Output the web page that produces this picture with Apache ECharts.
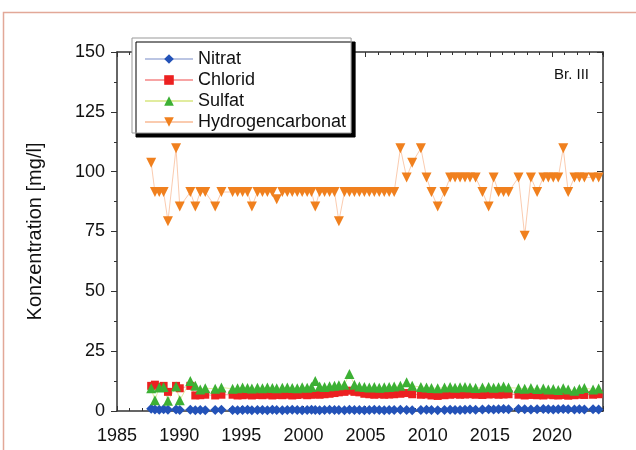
<!DOCTYPE html>
<html><head><meta charset="utf-8">
<script src="https://cdn.jsdelivr.net/npm/echarts@6/dist/echarts.min.js"></script>
<style>html,body{margin:0;padding:0;background:#fff}#c{width:636px;height:450px}</style>
</head><body><div id="c"></div>
<script>
var years = [1987.75,1988.05,1988.4,1988.75,1989.1,1989.75,1990.05,1990.9,1991.3,1991.7,1992.1,1992.9,1993.4,1994.3,1994.7,1995.1,1995.5,1995.85,1996.3,1996.7,1997.1,1997.5,1997.85,1998.3,1998.7,1999.1,1999.5,1999.9,2000.3,2000.65,2000.95,2001.3,2001.7,2002.1,2002.5,2002.85,2003.3,2003.7,2004.1,2004.5,2004.9,2005.3,2005.7,2006.1,2006.5,2006.9,2007.3,2007.8,2008.3,2008.75,2009.45,2009.9,2010.3,2010.8,2011.35,2011.8,2012.2,2012.6,2013.0,2013.4,2013.85,2014.4,2014.9,2015.3,2015.7,2016.1,2016.5,2017.3,2017.8,2018.3,2018.8,2019.3,2019.7,2020.1,2020.5,2020.9,2021.3,2021.8,2022.2,2022.6,2023.3,2023.75];
var hydrogencarbonat = [103.7,91.5,91.5,91.5,79.3,109.8,85.4,91.5,85.4,91.5,
  91.5,85.4,91.5,91.5,91.5,91.5,91.5,85.4,91.5,91.5,
  91.5,91.5,88.5,91.5,91.5,91.5,91.5,91.5,91.5,91.5,
  85.4,91.5,91.5,91.5,91.5,79.3,91.5,91.5,91.5,91.5,
  91.5,91.5,91.5,91.5,91.5,91.5,91.5,109.8,97.6,103.7,
  109.8,97.6,91.5,85.4,91.5,97.6,97.6,97.6,97.6,97.6,
  97.6,91.5,85.4,97.6,91.5,91.5,91.5,97.6,73.2,97.6,
  91.5,97.6,97.6,97.6,97.6,109.8,91.5,97.6,97.6,97.6,
  97.6,97.6];
var chlorid = [10.5,11.0,10.0,10.5,8.0,10.5,9.5,10.5,
  6.5,6.6,6.8,6.5,6.8,
  6.8,6.5,6.6,6.8,6.5,6.7,6.6,6.8,6.5,6.7,6.6,6.8,6.5,6.7,6.9,6.6,6.8,7.0,6.8,7.0,7.2,
  7.5,7.8,8.0,8.5,8.0,7.8,
  7.2,7.0,6.8,7.0,6.8,6.9,7.0,7.2,7.5,7.0,
  6.8,6.9,6.5,6.3,6.6,6.8,7.0,6.8,6.9,7.0,6.8,6.7,6.9,7.0,6.8,6.9,7.0,
  6.8,6.5,6.7,6.6,6.5,6.8,6.6,6.5,6.7,6.4,6.6,6.8,6.7,
  6.8,7.0];
var sulfat = [9.5,4.5,9.8,10.0,4.3,10.2,4.5,12.5,
  10.5,9.0,9.5,9.3,9.8,
  9.3,9.5,9.8,9.6,9.4,9.7,9.5,9.8,9.6,9.5,9.7,9.8,9.6,9.5,9.9,9.7,10.0,
  12.5,
  10.2,10.0,10.3,10.5,10.8,11.0,
  15.5,
  11.0,10.2,10.0,9.8,10.0,9.7,9.9,10.0,10.2,
  10.5,12.0,10.5,
  10.0,9.8,9.6,9.5,9.8,10.0,9.7,9.9,10.0,9.8,9.6,9.8,10.0,9.7,9.9,10.2,9.8,
  9.5,9.3,9.6,9.2,9.4,9.0,9.2,8.8,9.5,9.0,8.5,9.2,9.6,
  9.0,9.4];
var nitrat = [0.9,0.6,0.5,0.7,0.5,0.6,0.4,0.5,0.3,0.4,
  0.3,0.4,0.5,0.4,0.3,0.4,0.5,0.3,0.4,0.4,
  0.3,0.5,0.4,0.3,0.4,0.5,0.4,0.3,0.4,0.5,
  0.4,0.3,0.4,0.5,0.4,0.4,0.3,0.5,0.4,0.4,
  0.3,0.4,0.5,0.4,0.3,0.4,0.4,0.5,0.4,0.3,
  0.4,0.5,0.4,0.3,0.4,0.5,0.4,0.4,0.5,0.6,
  0.5,0.6,0.7,0.6,0.7,0.8,0.7,0.8,0.7,0.6,
  0.7,0.8,0.7,0.6,0.7,0.8,0.7,0.6,0.7,0.6,
  0.7,0.6];
var seriesNames = ['Nitrat','Chlorid','Sulfat','Hydrogencarbonat'];
var yTicks = [0,25,50,75,100,125,150];
var xTickYears = [1985,1990,1995,2000,2005,2010,2015,2020];

function pairs(v){ return years.map(function(y,i){ return [y, v[i]]; }); }

var chart = echarts.init(document.getElementById('c'), null, {renderer:'canvas'});
var axisCol = '#333';
var font = 'Liberation Sans, Arial, sans-serif';
var invTri = 'path://M0,0 L10,0 L5,9 Z';
function mk(name, data, color, lineColor, symbol, size){
  return {name:name, type:'line', xAxisIndex:0, yAxisIndex:0, data:pairs(data),
    symbol:symbol, symbolSize:size, showSymbol:true, connectNulls:true,
    itemStyle:{color:color}, lineStyle:{color:lineColor, width:1},
    emphasis:{disabled:true}, animation:false, z:3};
}
chart.setOption({
  animation:false,
  backgroundColor:'#fff',
  grid:{left:117, right:33, top:52, bottom:39, containLabel:false},
  xAxis:[{type:'value', position:'bottom', min:1985, max:2024.1, interval:5,
    axisLine:{show:true, onZero:false, lineStyle:{color:axisCol, width:1.5}},
    axisTick:{show:true, inside:true, length:5, lineStyle:{color:axisCol}},
    minorTick:{show:true, splitNumber:5, length:3, lineStyle:{color:axisCol}},
    axisLabel:{color:'#111', fontSize:18, fontFamily:font, margin:16, showMaxLabel:false,
      formatter:function(v){ return xTickYears.indexOf(v)>=0 ? String(v) : ''; }},
    splitLine:{show:false}},
   {type:'value', position:'top', min:1985, max:2024.1, interval:5,
    axisLine:{show:true, onZero:false, lineStyle:{color:axisCol, width:1.5}},
    axisTick:{show:true, inside:true, length:5, lineStyle:{color:axisCol}},
    minorTick:{show:true, splitNumber:5, length:3, lineStyle:{color:axisCol}},
    axisLabel:{show:false}, splitLine:{show:false}}],
  yAxis:[{type:'value', position:'left', min:0, max:150, interval:25,
    name:'Konzentration [mg/l]', nameLocation:'middle', nameGap:72, nameRotate:90,
    nameTextStyle:{color:'#111', fontSize:20, fontFamily:font},
    axisLine:{show:true, onZero:false, lineStyle:{color:axisCol, width:1.5}},
    axisTick:{show:true, inside:false, length:6, lineStyle:{color:axisCol}},
    minorTick:{show:true, splitNumber:2, length:3, lineStyle:{color:axisCol}},
    axisLabel:{color:'#111', fontSize:18, fontFamily:font, margin:12,
      formatter:function(v){ return yTicks.indexOf(v)>=0 ? String(v) : ''; }},
    splitLine:{show:false}},
   {type:'value', position:'right', min:0, max:150, interval:25,
    axisLine:{show:true, onZero:false, lineStyle:{color:axisCol, width:1.5}},
    axisTick:{show:true, inside:true, length:6, lineStyle:{color:axisCol}},
    minorTick:{show:true, splitNumber:2, length:3, lineStyle:{color:axisCol}},
    axisLabel:{show:false}, splitLine:{show:false}}],
  legend:{orient:'vertical', left:132, top:38, data:seriesNames,
    padding:[12,5,2,12], itemGap:3, itemWidth:48, itemHeight:12,
    backgroundColor:'#fff', borderColor:'#999', borderWidth:1,
    shadowColor:'#000', shadowBlur:0, shadowOffsetX:4, shadowOffsetY:4,
    textStyle:{color:'#111', fontSize:18, fontFamily:font}},
  graphic:[
    {type:'rect', shape:{x:3.5, y:12.5, width:700, height:500}, style:{fill:null, stroke:'#e2a898', lineWidth:1.5}, silent:true, z:-1},
    {type:'text', left:554, top:67, style:{text:'Br. III', fill:'#111', font:'15px '+font}, z:10}
  ],
  series:[
    mk(seriesNames[0], nitrat, '#2352b8', 'rgba(120,140,200,0.5)', 'diamond', 10),
    mk(seriesNames[1], chlorid, '#ec2020', 'rgba(240,90,90,0.55)', 'rect', 8),
    mk(seriesNames[2], sulfat, '#3cb034', 'rgba(200,220,80,0.55)', 'triangle', 10),
    mk(seriesNames[3], hydrogencarbonat, '#f0801e', 'rgba(245,160,110,0.55)', invTri, 10)
  ]
});
</script></body></html>
